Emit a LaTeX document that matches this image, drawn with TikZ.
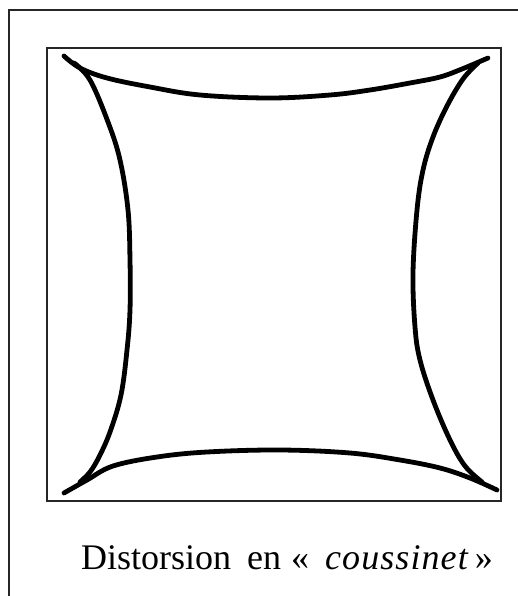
\documentclass[tikz,border=0pt]{standalone}
\usepackage{fontspec}
\setmainfont{Liberation Serif}
\begin{document}
\begin{tikzpicture}[x=1pt,y=-1pt,
  frame/.style={line width=2.2pt,draw=black!85},
  distort/.style={line width=4.8pt,line cap=round,line join=round,draw=black}]
\useasboundingbox (0,0) rectangle (518,596);
% outer frame (partly cut by the picture's edges)
\draw[frame] (9,620) -- (9,10) -- (540,10);
% inner square
\draw[frame] (47,48) rectangle (501,501);
% top edge
\draw[distort] plot[smooth,tension=0.6] coordinates {(64,56) (80,68) (107,78) (150,87) (200,95) (270,98) (330,95) (370,90) (410,83) (440,77) (462,69) (488,58)};
% bottom edge
\draw[distort] plot[smooth,tension=0.6] coordinates {(64,493) (87,480) (113,466) (157,457) (207,452) (280,450) (350,453) (400,460) (440,468) (470,478) (497,490)};
% left edge
\draw[distort] plot[smooth,tension=0.6] coordinates {(74,63) (90,80) (108,122) (120,160) (128,210) (130,260) (130,310) (127,350) (121,395) (110,432) (99,457) (90,472) (80,482)};
% right edge
\draw[distort] plot[smooth,tension=0.6] coordinates {(478,63) (463,79) (447,106) (433,137) (423,170) (417,210) (413,273) (415,327) (420,360) (433,400) (450,440) (465,466) (482,482)};
% caption
\node[anchor=base west,font=\fontsize{36}{43}\selectfont,inner sep=0pt] (caption) at (81,569)
  {Distorsion\hspace{16pt}en\hspace{10pt}«\hspace{16pt}{\itshape\addfontfeature{LetterSpace=3}coussinet}\hspace{7pt}»};
\end{tikzpicture}
\end{document}
